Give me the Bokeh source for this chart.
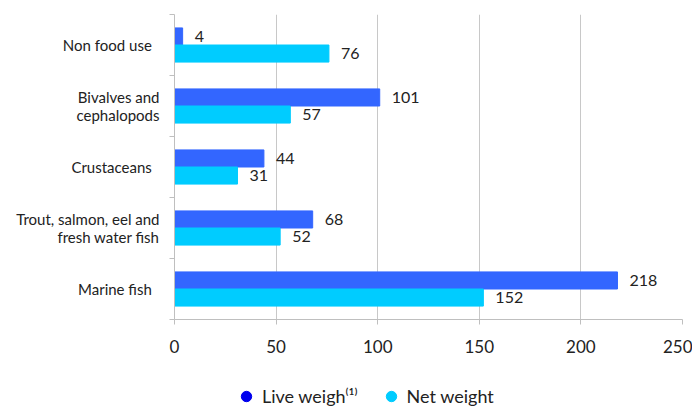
from bokeh.plotting import figure
from bokeh.layouts import column
from bokeh.models import (ColumnDataSource, FixedTicker, Range1d, Legend, LegendItem)
from bokeh.core.properties import value
from bokeh.embed import file_html
from bokeh.resources import INLINE

# categories from top to bottom
categories = ["Non food use\u00a0\u00a0", "Bivalves and\ncephalopods",
              "Crustaceans\u00a0\u00a0", "Trout, salmon, eel and\nfresh water fish",
              "Marine fish\u00a0\u00a0"]
live_weight = [4, 101, 44, 68, 218]
net_weight = [76, 57, 31, 52, 152]
x_ticks = [0, 50, 100, 150, 200, 250]
series_names = ["Live weigh\u207d\u00b9\u207e", "Net weight"]

LIVE = "#3366FF"
NET = "#00CCFF"
FONT = "Lato"
nan = float("nan")

n = len(categories)
ypos = [n - 1 - i + 0.5 for i in range(n)]
src = ColumnDataSource(dict(
    y_live=[y + 0.14 for y in ypos], y_net=[y - 0.14 for y in ypos],
    live=live_weight, net=net_weight,
    live_lbl=[str(v) for v in live_weight], net_lbl=[str(v) for v in net_weight],
))

p = figure(width=692, height=368, output_backend="svg", toolbar_location=None,
           x_range=Range1d(0, 250), y_range=Range1d(0, n),
           min_border_left=174, min_border_right=10, min_border_top=14, min_border_bottom=49)
p.outline_line_color = None
p.background_fill_color = "white"
p.border_fill_color = "white"

p.hbar(y="y_live", left=0, right="live", height=0.28, source=src,
       fill_color=LIVE, line_color=LIVE)
p.hbar(y="y_net", left=0, right="net", height=0.28, source=src,
       fill_color=NET, line_color=NET)

p.text(x="live", y="y_live", text="live_lbl", source=src, x_offset=12,
       text_align="left", text_baseline="middle", text_font=value(FONT),
       text_font_size="16px", text_color="#222222")
p.text(x="net", y="y_net", text="net_lbl", source=src, x_offset=12,
       text_align="left", text_baseline="middle", text_font=value(FONT),
       text_font_size="16px", text_color="#222222")

# x axis
p.xaxis.ticker = FixedTicker(ticks=x_ticks)
p.xaxis.axis_line_color = "#bfbfbf"
p.xaxis.major_tick_line_color = "#bfbfbf"
p.xaxis.major_tick_out = 5
p.xaxis.major_tick_in = 0
p.xaxis.minor_tick_line_color = None
p.xaxis.major_label_text_font = FONT
p.xaxis.major_label_text_font_size = "17px"
p.xaxis.major_label_text_color = "#222222"
p.xaxis.major_label_standoff = 15

# y axis
p.yaxis.ticker = FixedTicker(ticks=ypos, minor_ticks=list(range(n + 1)))
p.yaxis.major_label_overrides = {y: c for y, c in zip(ypos, categories)}
p.yaxis.axis_line_color = "#bfbfbf"
p.yaxis.major_tick_line_color = None
p.yaxis.major_tick_out = 0
p.yaxis.major_tick_in = 0
p.yaxis.minor_tick_line_color = "#bfbfbf"
p.yaxis.minor_tick_out = 5
p.yaxis.minor_tick_in = 0
p.yaxis.major_label_text_font = FONT
p.yaxis.major_label_text_font_size = "15px"
p.yaxis.major_label_text_line_height = 0.95
p.yaxis.major_label_text_color = "#222222"
p.yaxis.major_label_standoff = 10

p.xgrid.grid_line_color = "#c8c8c8"
p.ygrid.grid_line_color = None

# legend in its own strip below the chart
lg = figure(width=692, height=42, output_backend="svg", toolbar_location=None,
            x_range=Range1d(0, 1), y_range=Range1d(0, 1),
            x_axis_type=None, y_axis_type=None, min_border=0)
lg.outline_line_color = None
lg.grid.grid_line_color = None
r1 = lg.scatter(x=[nan], y=[nan], marker="circle", size=14,
                fill_color="#0000EE", line_color="#0000EE")
r2 = lg.scatter(x=[nan], y=[nan], marker="circle", size=14,
                fill_color=NET, line_color=NET)
legend = Legend(items=[LegendItem(label=series_names[0], renderers=[r1]),
                       LegendItem(label=series_names[1], renderers=[r2])],
                orientation="horizontal", location=(57, 1),
                label_text_font=FONT, label_text_font_size="18px",
                label_text_color="#222222", border_line_color=None,
                background_fill_alpha=0,
                glyph_width=30, glyph_height=26, label_standoff=1, spacing=18,
                padding=0, margin=0)
lg.add_layout(legend)

open("out.html", "w").write(file_html(column(p, lg, spacing=0), INLINE))
